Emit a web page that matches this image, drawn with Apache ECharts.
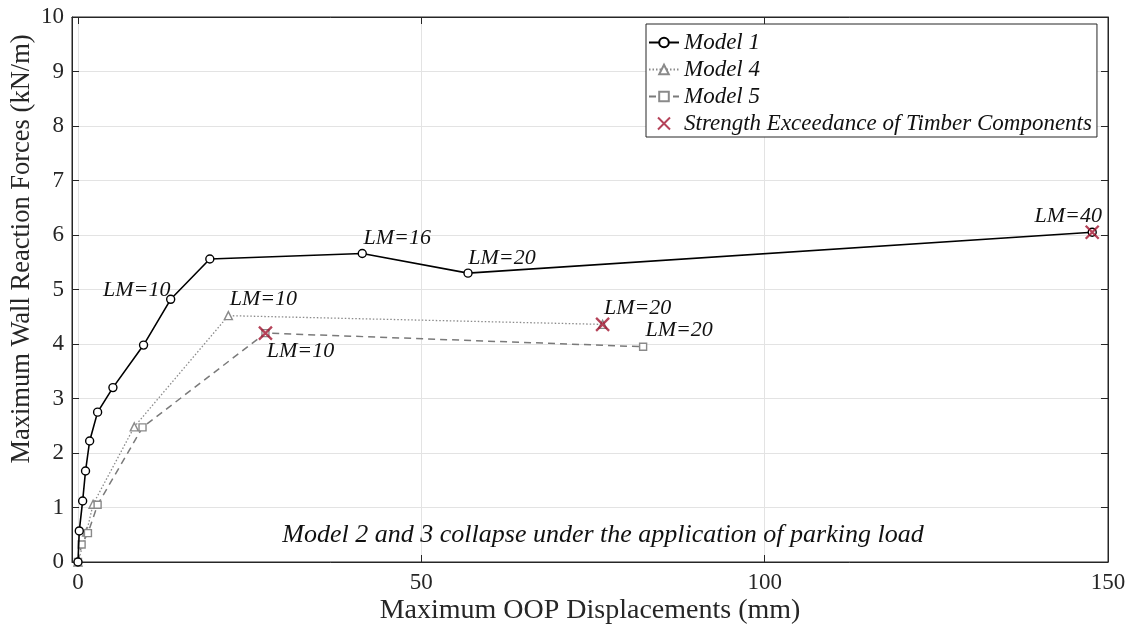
<!DOCTYPE html>
<html>
<head>
<meta charset="utf-8">
<script src="https://cdn.jsdelivr.net/npm/echarts@6/dist/echarts.min.js"></script>
<style>html,body{margin:0;padding:0;background:#fff}#c{width:1129px;height:632px}</style>
</head>
<body>
<div id="c"></div>
<script>
// ---- data ----
const m1x = [0, 0.19, 0.68, 1.1, 1.7, 2.86, 5.09, 9.55, 13.5, 19.2, 41.4, 56.8, 147.7];
const m1y = [0, 0.57, 1.12, 1.67, 2.22, 2.75, 3.20, 3.98, 4.82, 5.56, 5.66, 5.30, 6.05];
const m1lm = ['', '', '', '', '', '', '', '', 'LM=10', '', 'LM=16', 'LM=20', 'LM=40'];

const m4x = [0, 1.26, 2.2, 8.2, 21.9, 76.4];
const m4y = [0, 0.55, 1.06, 2.48, 4.52, 4.36];
const m4lm = ['', '', '', '', 'LM=10', 'LM=20'];

const m5x = [0, 0.53, 1.45, 2.86, 9.4, 27.3, 82.3];
const m5y = [0, 0.32, 0.53, 1.05, 2.47, 4.20, 3.95];
const m5lm = ['', '', '', '', '', 'LM=10', 'LM=20'];

const exX = [27.3, 76.4, 147.7];
const exY = [4.20, 4.36, 6.05];

const yTicks = [0,1,2,3,4,5,6,7,8,9,10];
const xTicks = [0, 50, 100, 150];

const seriesNames = ['Model 1', 'Model 4', 'Model 5', 'Strength Exceedance of Timber Components'];
const xTitle = 'Maximum OOP Displacements (mm)';
const yTitle = 'Maximum Wall Reaction Forces (kN/m)';
const note = 'Model 2 and 3 collapse under the application of parking load';

// ---- styles ----
const FONT = '"Liberation Serif", "Times New Roman", serif';
const labelOffsets = {
  'Model 1': {8: [-34, -9], 10: [35, -15], 11: [34, -15], 12: [-24, -16]},
  'Model 4': {4: [35, -16], 5: [35, -16]},
  'Model 5': {5: [35, 18], 6: [36, -17]}
};
function build(name, xs, ys, lms) {
  return xs.map((x, i) => {
    const item = {value: [x, ys[i]]};
    if (lms[i]) {
      item.label = {show: true, formatter: lms[i], position: 'inside',
        offset: (labelOffsets[name] || {})[i] || [0, -15]};
    }
    return item;
  });
}
const lmLabel = {fontFamily: FONT, fontStyle: 'italic', fontSize: 22, color: '#111'};

const chart = echarts.init(document.getElementById('c'), null, {renderer: 'canvas'});
const xAxisBase = {
  type: 'value', min: -0.87, max: 150, splitNumber: 3,
  axisLine: {show: true, onZero: false, lineStyle: {color: '#262626', width: 1}},
  axisTick: {show: true, inside: true, length: 7, lineStyle: {color: '#262626'}},
};
const option = {
  animation: false,
  backgroundColor: '#fff',
  grid: {left: 72, right: 21, top: 17, bottom: 70, show: true, borderColor: '#262626', borderWidth: 1, backgroundColor: 'transparent'},
  xAxis: [
    Object.assign({}, xAxisBase, {
      position: 'bottom',
      axisLabel: {fontFamily: FONT, fontSize: 23, color: '#262626', margin: 9,
        formatter: v => xTicks.indexOf(Math.round(v * 1000) / 1000) >= 0 ? String(v) : ''},
      splitLine: {show: true, lineStyle: {color: '#e3e3e3', width: 1}}
    }),
    Object.assign({}, xAxisBase, {
      position: 'top',
      axisLabel: {show: false},
      splitLine: {show: false}
    })
  ],
  yAxis: [
    {type: 'value', min: yTicks[0], max: yTicks[yTicks.length - 1], interval: 1, position: 'left',
      axisLine: {show: true, onZero: false, lineStyle: {color: '#262626'}},
      axisTick: {show: true, inside: true, length: 7, lineStyle: {color: '#262626'}},
      axisLabel: {fontFamily: FONT, fontSize: 23, color: '#262626', margin: 8},
      splitLine: {show: true, lineStyle: {color: '#e3e3e3', width: 1}}
    },
    {type: 'value', min: yTicks[0], max: yTicks[yTicks.length - 1], interval: 1, position: 'right',
      axisLine: {show: true, onZero: false, lineStyle: {color: '#262626'}},
      axisTick: {show: true, inside: true, length: 7, lineStyle: {color: '#262626'}},
      axisLabel: {show: false}, splitLine: {show: false}
    }
  ],
  legend: {
    orient: 'vertical', left: 646, top: 24,
    padding: [5, 5, 0, 2], itemGap: 0, itemWidth: 30, itemHeight: 12,
    backgroundColor: '#fff', borderColor: '#262626', borderWidth: 1,
    textStyle: {fontFamily: FONT, fontStyle: 'italic', fontSize: 23, color: '#111', lineHeight: 27},
    data: seriesNames,
    selectedMode: false
  },
  graphic: [
    {type: 'text', x: 22, y: 249, rotation: Math.PI / 2,
      style: {text: yTitle, font: '26.5px ' + FONT, fill: '#262626', textAlign: 'center', textVerticalAlign: 'middle'}},
    {type: 'text', x: 590, y: 611,
      style: {text: xTitle, font: '28px ' + FONT, fill: '#262626', textAlign: 'center', textVerticalAlign: 'middle'}},
    {type: 'text', x: 603, y: 535, z: 10,
      style: {text: note, font: 'italic 26px ' + FONT, fill: '#111', textAlign: 'center', textVerticalAlign: 'middle'}}
  ],
  series: [
    {name: seriesNames[0], type: 'line', data: build('Model 1', m1x, m1y, m1lm),
      symbol: 'circle', symbolSize: 8, showAllSymbol: true,
      lineStyle: {color: '#000', width: 1.6},
      itemStyle: {color: '#fff', borderColor: '#000', borderWidth: 1.4},
      label: lmLabel, z: 5},
    {name: seriesNames[1], type: 'line', data: build('Model 4', m4x, m4y, m4lm),
      symbol: 'triangle', symbolSize: 8, showAllSymbol: true,
      lineStyle: {color: '#8a8a8a', width: 1.3, type: [1.5, 2]},
      itemStyle: {color: '#fff', borderColor: '#8a8a8a', borderWidth: 1.4},
      label: lmLabel, z: 4},
    {name: seriesNames[2], type: 'line', data: build('Model 5', m5x, m5y, m5lm),
      symbol: 'rect', symbolSize: 7, showAllSymbol: true,
      lineStyle: {color: '#7a7a7a', width: 1.5, type: [7, 5]},
      itemStyle: {color: '#fff', borderColor: '#8a8a8a', borderWidth: 1.4},
      label: lmLabel, z: 4},
    {name: seriesNames[3], type: 'scatter', data: exX.map((x, i) => [x, exY[i]]),
      symbol: 'path://M0,0L10,10M10,0L0,10', symbolSize: 13,
      itemStyle: {color: 'none', borderColor: '#a2142f', borderWidth: 2.3}, z: 8}
  ]
};
chart.setOption(option);
</script>
</body>
</html>
